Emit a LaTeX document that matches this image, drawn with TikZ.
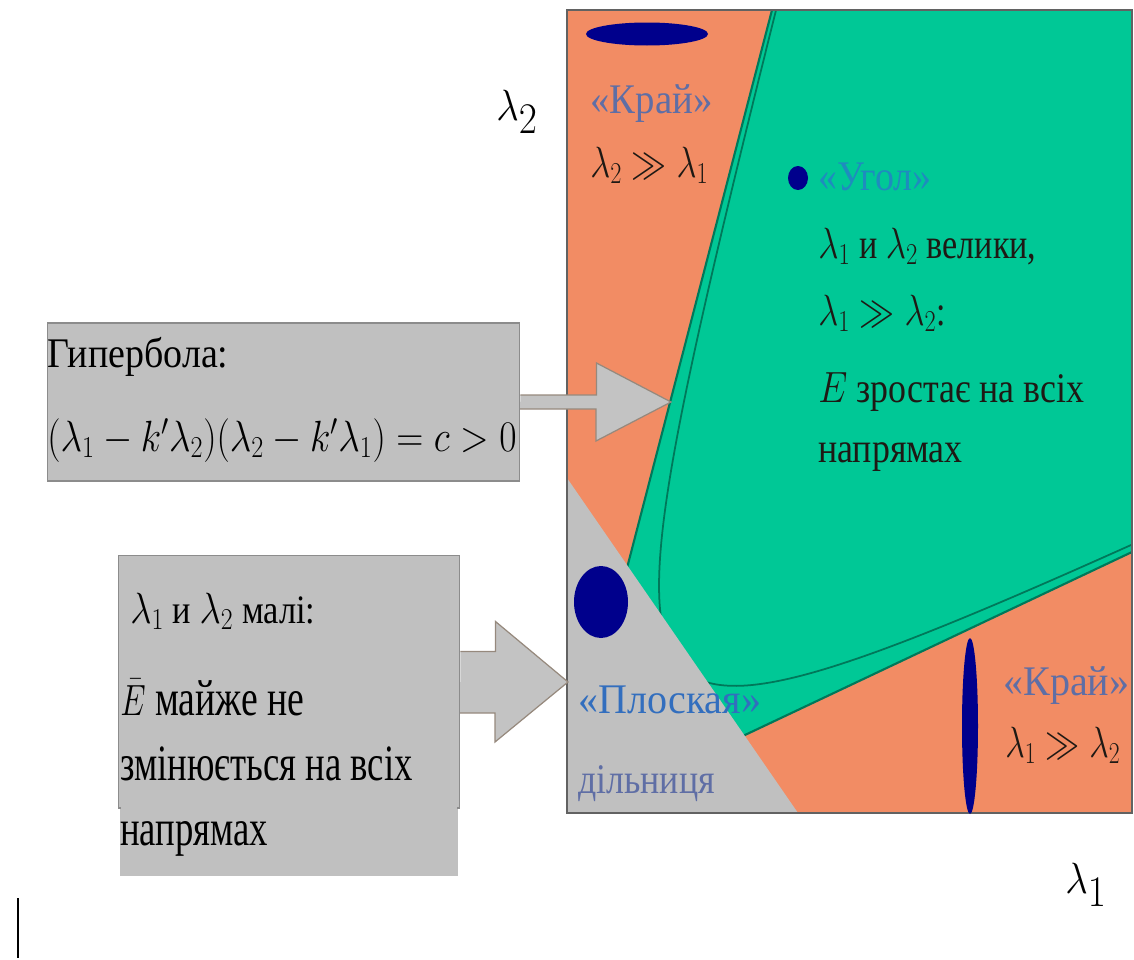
\documentclass[tikz,border=0pt]{standalone}
\usepackage{fontspec}
\setmainfont{Liberation Serif}
\usepackage{graphicx}

\definecolor{edgeorange}{RGB}{242,140,100}
\definecolor{cornergreen}{RGB}{0,200,150}
\definecolor{darkgreen}{RGB}{0,120,90}
\definecolor{flatgrey}{RGB}{192,192,192}
\definecolor{boxborder}{RGB}{140,140,140}
\definecolor{blobnavy}{RGB}{0,0,140}
\definecolor{slate}{RGB}{95,110,165}
\definecolor{cornerblue}{RGB}{30,140,190}
\definecolor{flatblue}{RGB}{50,110,190}
\definecolor{inktext}{RGB}{30,25,20}

\newcommand{\squash}[2][0.84]{\scalebox{#1}[1]{#2}}

\begin{document}
\begin{tikzpicture}[x=0.02cm, y=-0.02cm,
        label_text/.style={anchor=base west, inner sep=0pt, text=inktext, font=\fontsize{24}{28}\selectfont},
        slate_text/.style={label_text, text=slate},
        box_text/.style={label_text, text=black, font=\fontsize{29}{34}\selectfont},
        axis_label/.style={anchor=base west, inner sep=0pt, font=\fontsize{36}{40}\selectfont},
        grey_box/.style={rectangle, draw=boxborder, fill=flatgrey, line width=0.6pt, inner sep=0pt},
        block_arrow/.style={fill=flatgrey!95!white},
        arrow_edge/.style={draw=boxborder!80!brown, line width=0.7pt, line join=miter},
        edge_line/.style={draw=darkgreen, line width=1.2pt},
        blob/.style={fill=blobnavy}
    ]
    \useasboundingbox (0,0) rectangle (1134,960);

    % Eigenvalue plane: regions
    \begin{scope}
        \clip (567,10) rectangle (1132,813);
        \fill[edgeorange] (567,10) rectangle (1132,813);
        \fill[cornergreen] (772,10) -- (1132,10) -- (1132,552) -- (561,822) -- cycle;
        \draw[edge_line] (772,10) -- (561,822);
        \draw[edge_line] (1132,552) -- (561,822);
        % hyperbola between the two asymptotes
        \draw[edge_line, line width=1pt] plot[domain=-2.7:2.8, samples=160, smooth, variable=\u]
            ({561+108/(1+0.1*\u*\u)*(0.2515*exp(\u)+0.9040*exp(-\u))},
             {822-108/(1+0.1*\u*\u)*(0.9678*exp(\u)+0.4275*exp(-\u))});
        \fill[flatgrey] (567,478) -- (798,813) -- (567,813) -- cycle;
    \end{scope}
    \draw[boxborder!70!black, line width=1pt] (567,10) rectangle (1132,813);

    % Ellipses of the autocorrelation
    \fill[blob] (647,34) ellipse [x radius=61, y radius=11.5];
    \fill[blob] (798,178) ellipse [x radius=10, y radius=12];
    \fill[blob] (601,602) ellipse [x radius=27, y radius=36];
    \fill[blob] (970,726) ellipse [x radius=8, y radius=88];

    % Region labels
    \node[slate_text] (krai_top) at (590,113) {\squash[0.92]{«Край»}};
    \node[label_text] (krai_top_rel) at (590,177) {\squash[0.8]{$\lambda_2 \gg \lambda_1$}};
    \node[label_text, text=cornerblue] (ugol) at (818,190) {\squash[0.9]{«Угол»}};
    \node[label_text] (ugol_a) at (818,258) {\squash[0.81]{$\lambda_1$ и $\lambda_2$ велики,}};
    \node[label_text] (ugol_b) at (818,325) {\squash[0.8]{$\lambda_1 \gg \lambda_2$:}};
    \node[label_text] (ugol_c) at (818,402) {\squash[0.85]{$E$ зростає на всіх}};
    \node[label_text] (ugol_d) at (818,462) {\squash[0.85]{напрямах}};
    \node[label_text, text=flatblue] (plosk) at (578,713) {\squash[0.95]{«Плоская»}};
    \node[slate_text] (plosk_b) at (578,793) {\squash[0.85]{дільниця}};
    \node[slate_text] (krai_right) at (1003,695) {\squash[0.95]{«Край»}};
    \node[label_text] (krai_right_rel) at (1005,757) {\squash[0.78]{$\lambda_1 \gg \lambda_2$}};

    % Axes
    \node[axis_label] (lam_two) at (496,120) {\squash[0.9]{$\lambda_2$}};
    \node[axis_label] (lam_one) at (1065,893) {\squash[0.9]{$\lambda_1$}};

    % Hyperbola call-out
    \node[grey_box, minimum width=9.46cm, minimum height=3.16cm] (hyp_box) at (283.5,402) {};
    \node[label_text, text=black] (hyp_title) at (47,367) {\squash[0.9]{Гипербола:}};
    \node[label_text, text=black, font=\fontsize{26}{30}\selectfont] (hyp_eq) at (47,451) {\squash[0.86]{$(\lambda_1 - k'\lambda_2)(\lambda_2 - k'\lambda_1) = c > 0$}};
    \coordinate (hyp_tip) at (671,402);
    \fill[block_arrow] (hyp_box.east) ++(0,-7) -- ++(76,0) -- ++(0,-32) -- (hyp_tip) -- ++(-75,39) -- ++(0,-32) -- ++(-76,0) -- cycle;
    \draw[arrow_edge] (hyp_box.east) ++(0,-7) -- ++(76,0) -- ++(0,-32) -- (hyp_tip) -- ++(-75,39) -- ++(0,-32) -- ++(-76,0);

    % Flat region call-out
    \fill[flatgrey] (120,800) rectangle (458,876);
    \node[grey_box, minimum width=6.84cm, minimum height=5.06cm] (flat_box) at (289,681.5) {};
    \fill[flatgrey] (121,800) rectangle (457,876);
    \coordinate (flat_tip) at (568,682);
    \fill[block_arrow] (flat_box.east) ++(0,-30) -- ++(35,0) -- ++(0,-30) -- (flat_tip) -- ++(-73,60) -- ++(0,-29) -- ++(-35,0) -- cycle;
    \draw[arrow_edge] (flat_box.east) ++(0,-30) -- ++(35,0) -- ++(0,-30) -- (flat_tip) -- ++(-73,60) -- ++(0,-29) -- ++(-35,0);
    \node[label_text, text=black, font=\fontsize{23}{27}\selectfont] (flat_a) at (130,623) {\squash[0.85]{$\lambda_1$ и $\lambda_2$ малі:}};
    \node[box_text] (flat_b) at (120,715) {\squash[0.74]{$\bar{E}$ майже не}};
    \node[box_text] (flat_c) at (120,780) {\squash[0.72]{змінюється на всіх}};
    \node[box_text] (flat_d) at (120,845) {\squash[0.72]{напрямах}};

    % cursor mark
    \draw[line width=0.06cm] (18,898) -- (18,958);
\end{tikzpicture}
\end{document}
